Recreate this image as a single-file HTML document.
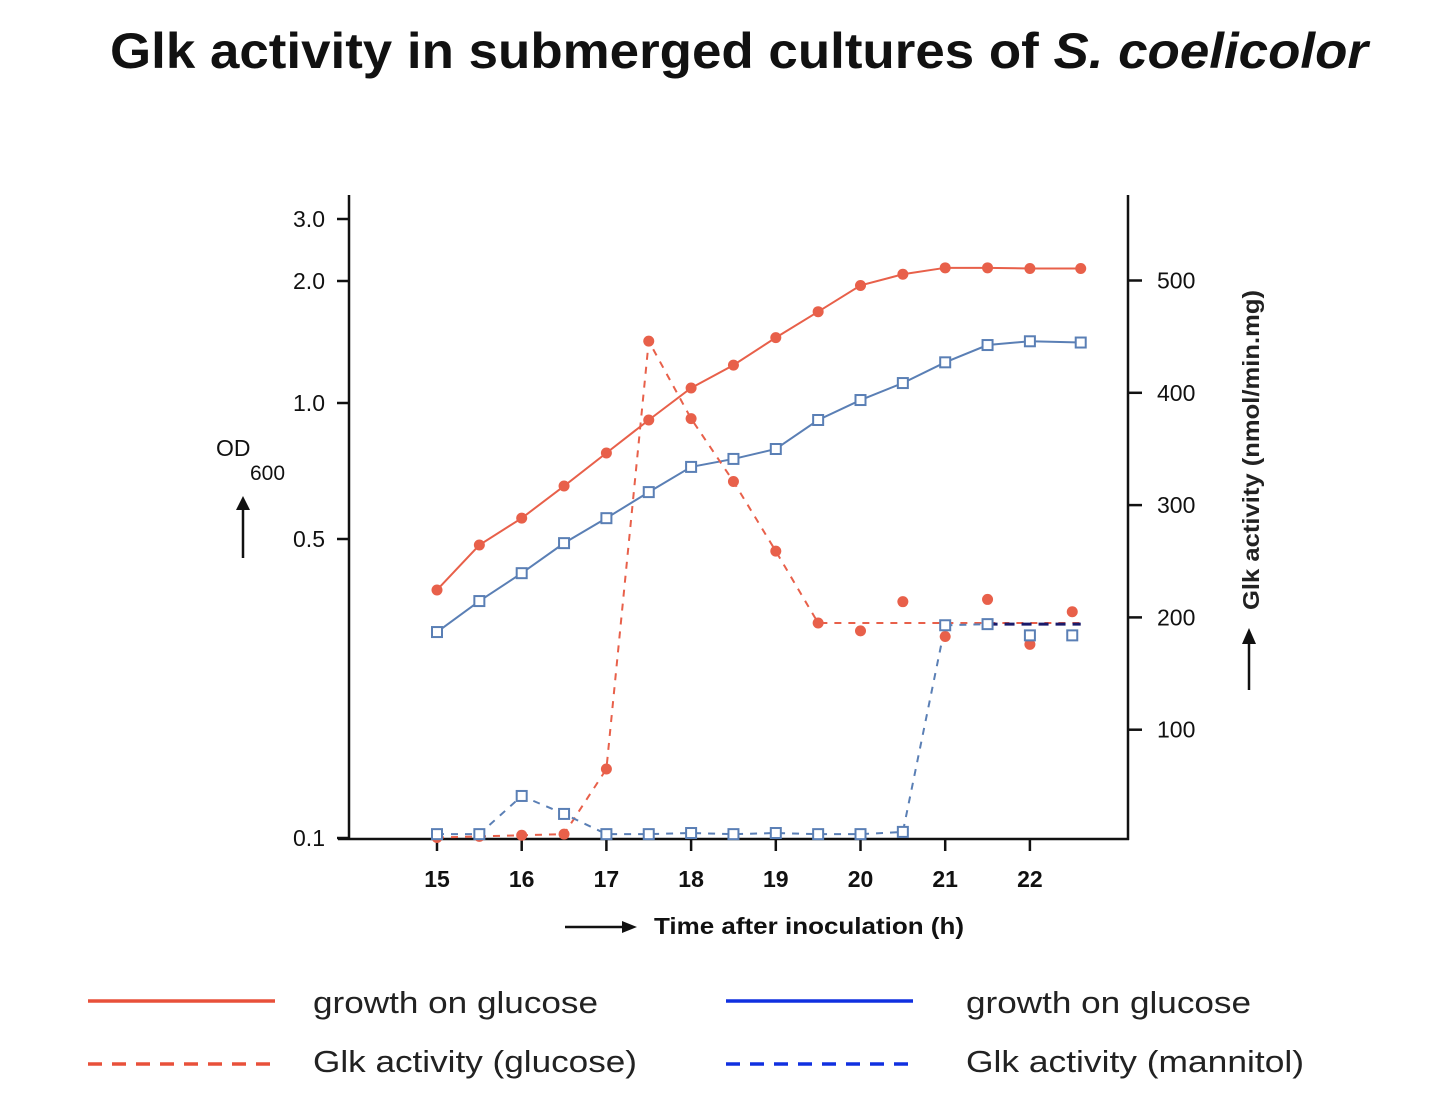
<!DOCTYPE html>
<html><head><meta charset="utf-8"><style>
body{margin:0;background:#fff;}
svg{display:block;font-family:"Liberation Sans",Arial,sans-serif;}
</style></head><body>
<svg id="c" width="1444" height="1112" viewBox="0 0 1444 1112">
<text x="110" y="68" textLength="1258" lengthAdjust="spacingAndGlyphs" font-size="50" font-weight="bold" fill="#111">Glk activity in submerged cultures of <tspan font-style="italic">S. coelicolor</tspan></text>
<g id="axes" stroke="#111" stroke-width="2.5" fill="none">
<line x1="349" y1="195" x2="349" y2="840"/>
<line x1="338" y1="839" x2="1129" y2="839"/>
<line x1="1128" y1="195" x2="1128" y2="840"/>
</g>
<g id="plot"></g>
<text x="216" y="456" font-size="23" fill="#111">OD</text>
<text x="250" y="480" font-size="21" fill="#111">600</text>
<g><line x1="243" y1="558" x2="243" y2="505" stroke="#111" stroke-width="2.5"/><polygon points="236,510 243,496 250,510" fill="#111"/></g>
<text transform="translate(1259,290) rotate(-90)" x="-320" y="0" textLength="320" lengthAdjust="spacingAndGlyphs" font-size="23" font-weight="bold" fill="#222">Glk activity (nmol/min.mg)</text>
<g><line x1="1249" y1="690" x2="1249" y2="640" stroke="#111" stroke-width="2.5"/><polygon points="1242,644 1249,628 1256,644" fill="#111"/></g>
<text x="654" y="934" textLength="310" lengthAdjust="spacingAndGlyphs" font-size="23" font-weight="bold" fill="#111">Time after inoculation (h)</text>
<g><line x1="565" y1="927" x2="625" y2="927" stroke="#111" stroke-width="2.5"/><polygon points="622,921 637,927 622,933" fill="#111"/></g>
<g>
<line x1="88" y1="1001" x2="275" y2="1001" stroke="#e8503a" stroke-width="3.5"/>
<text x="313" y="1013" textLength="285" lengthAdjust="spacingAndGlyphs" font-size="31" fill="#222">growth on glucose</text>
<line x1="88" y1="1064" x2="275" y2="1064" stroke="#e8503a" stroke-width="3.5" stroke-dasharray="14,10"/>
<text x="313" y="1072" textLength="324" lengthAdjust="spacingAndGlyphs" font-size="31" fill="#222">Glk activity (glucose)</text>
<line x1="726" y1="1001" x2="913" y2="1001" stroke="#1030e0" stroke-width="3.5"/>
<text x="966" y="1013" textLength="285" lengthAdjust="spacingAndGlyphs" font-size="31" fill="#222">growth on glucose</text>
<line x1="726" y1="1064" x2="913" y2="1064" stroke="#1030e0" stroke-width="3.5" stroke-dasharray="14,10"/>
<text x="966" y="1072" textLength="338" lengthAdjust="spacingAndGlyphs" font-size="31" fill="#222">Glk activity (mannitol)</text>
</g>
</svg>
<script>
const times=[15,15.5,16,16.5,17,17.5,18,18.5,19,19.5,20,20.5,21,21.5,22,22.6];
const growthRed=[0.380,0.484,0.556,0.655,0.775,0.917,1.089,1.24,1.45,1.68,1.95,2.09,2.18,2.18,2.17,2.17];
const growthBlue=[0.303,0.358,0.416,0.489,0.556,0.635,0.722,0.752,0.791,0.917,1.017,1.12,1.26,1.39,1.42,1.41];
const actTimes=[15,15.5,16,16.5,17,17.5,18,18.5,19,19.5,20,20.5,21,21.5,22,22.5];
const actRed=[4,5,6,7,65,446,377,321,259,195,188,214,183,216,176,205];
const actBlue=[7,7,41,25,7,7,8,7,8,7,7,9,193,194,184,184];
const actRedPlateau=195;
const actBluePlateau=194;
const xTicks=[15,16,17,18,19,20,21,22];
const odTicks=[0.1,0.5,1.0,2.0,3.0];
const odTickLabels=["0.1","0.5","1.0","2.0","3.0"];
const actTicks=[100,200,300,400,500];

const X=t=>437+(t-15)*84.7;
// axis anchors (scale definition, piecewise log)
const odAnchorV=[0.1,0.5,1,2,3];
const odAnchorY=[838,539,403,281,219];
function YL(v){
 let i=0;while(i<odAnchorV.length-2&&v>odAnchorV[i+1])i++;
 const a=Math.log10(odAnchorV[i]),b=Math.log10(odAnchorV[i+1]);
 return odAnchorY[i]+(Math.log10(v)-a)/(b-a)*(odAnchorY[i+1]-odAnchorY[i]);
}
const YR=v=>842-v*1.123;
const NS="http://www.w3.org/2000/svg";
const svg=document.getElementById('plot');
function mk(tag,attrs){const e=document.createElementNS(NS,tag);for(const k in attrs)e.setAttribute(k,attrs[k]);svg.appendChild(e);return e;}
const RED="#e8604a",BLUE="#5a7fb5",NAVY="#1a1a6a";

xTicks.forEach(t=>{
 const l=mk('line',{x1:X(t),y1:839,x2:X(t),y2:851,stroke:'#111','stroke-width':2.5});
 
 
 const tx=mk('text',{x:X(t),y:887,'text-anchor':'middle','font-size':23,'font-weight':'bold',fill:'#111'});
 tx.textContent=t;
 
 
});
odTicks.forEach((v,i)=>{
 const l=mk('line',{x1:337,y1:YL(v),x2:349,y2:YL(v),stroke:'#111','stroke-width':2.5});
 
 
 const tx=mk('text',{x:325,y:YL(v)+8,'text-anchor':'end','font-size':23,fill:'#111'});
 tx.textContent=odTickLabels[i];
 
 
});
actTicks.forEach(v=>{
 const l=mk('line',{x1:1128,y1:YR(v),x2:1142,y2:YR(v),stroke:'#111','stroke-width':2.5});
 
 
 const tx=mk('text',{x:1157,y:YR(v)+8,'font-size':23,fill:'#111'});
 tx.textContent=v;
 
 
});
function pts(xs,ys,f){return xs.map((t,i)=>X(t)+','+f(ys[i])).join(' ');}
let p=mk('polyline',{points:pts(times,growthRed,YL),fill:'none',stroke:RED,'stroke-width':2});


p=mk('polyline',{points:pts(times,growthBlue,YL),fill:'none',stroke:BLUE,'stroke-width':2});


const redIdx=actTimes.indexOf(19.5);
let rp=actTimes.slice(0,redIdx+1).map((t,i)=>X(t)+','+YR(actRed[i])).join(' ')+' '+X(22.6)+','+YR(actRedPlateau);
p=mk('polyline',{points:rp,fill:'none',stroke:RED,'stroke-width':2,'stroke-dasharray':'7,7'});


const bIdx=actTimes.indexOf(21);
let bp=actTimes.slice(0,bIdx+1).map((t,i)=>X(t)+','+YR(actBlue[i])).join(' ')+' '+X(21.5)+','+YR(actBluePlateau);
p=mk('polyline',{points:bp,fill:'none',stroke:BLUE,'stroke-width':2,'stroke-dasharray':'7,7'});


p=mk('line',{x1:X(21.5),y1:YR(actBluePlateau),x2:X(22.6),y2:YR(actBluePlateau),stroke:NAVY,'stroke-width':3,'stroke-dasharray':'10,7'});


function dot(x,y,n){const c=mk('circle',{cx:x,cy:y,r:5.5,fill:RED});}
function sq(x,y,n){const r=mk('rect',{x:x-5,y:y-5,width:10,height:10,fill:'#fff',stroke:BLUE,'stroke-width':2});}
times.forEach((t,i)=>{dot(X(t),YL(growthRed[i]),'growth-red-point');sq(X(t),YL(growthBlue[i]),'growth-blue-point');});
actTimes.forEach((t,i)=>{dot(X(t),YR(actRed[i]),'glk-glucose-point');sq(X(t),YR(actBlue[i]),'glk-mannitol-point');});
</script>
</body></html>
